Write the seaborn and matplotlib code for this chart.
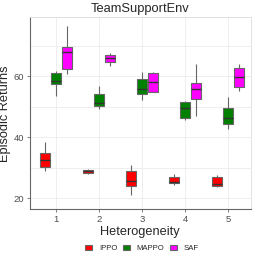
import numpy as np
import pandas as pd
import seaborn as sns
from matplotlib import pyplot as plt

# Five runs per box (whisker low, q1, median, q3, whisker high)
heterogeneity = [1, 2, 3, 4, 5]
methods = ["IPPO", "MAPPO", "SAF"]

ippo = [[29.0, 30.4, 32.6, 35.0, 38.4],
        [27.9, 28.4, 28.9, 29.3, 29.6],
        [21.0, 24.1, 25.7, 28.9, 30.8],
        [24.3, 25.0, 25.3, 27.0, 27.9],
        [23.6, 24.1, 24.7, 26.9, 27.6]]
mappo = [[53.5, 57.5, 58.4, 61.0, 61.8],
         [49.4, 50.4, 51.3, 54.1, 56.9],
         [52.2, 54.1, 55.8, 59.0, 61.3],
         [45.6, 46.3, 49.5, 51.5, 51.9],
         [42.8, 44.5, 46.2, 49.7, 53.2]]
saf = [[60.7, 62.5, 68.0, 69.5, 76.5],
       [63.5, 64.8, 66.0, 67.1, 67.7],
       [54.9, 54.9, 58.0, 61.1, 61.5],
       [46.8, 52.5, 55.7, 57.7, 64.0],
       [55.0, 56.4, 59.7, 62.8, 64.0]]

palette = {"IPPO": "#FF0000", "MAPPO": "#008000", "SAF": "#FF00FF"}

rows = []
for name, runs in zip(methods, [ippo, mappo, saf]):
    for h, vals in zip(heterogeneity, runs):
        for v in vals:
            rows.append({"Heterogeneity": h, "Method": name, "Return": v})
df = pd.DataFrame(rows)

sns.set_style("white")
plt.rcParams['font.family'] = ['Liberation Sans', 'DejaVu Sans']

fig = plt.figure(figsize=(2.58, 2.58), dpi=100)
ax = fig.add_axes([0.1163, 0.1888, 0.855, 0.7442])

sns.boxplot(data=df, x="Heterogeneity", y="Return", hue="Method",
            hue_order=methods, palette=palette, width=0.75, gap=0.08,
            whis=np.inf, showcaps=False, linecolor="#666666", linewidth=0.8,
            medianprops={"color": "#333333", "linewidth": 1.0},
            saturation=1, ax=ax)

ax.set_xlim(-0.6, 4.52)
ax.set_ylim(16.4, 79.3)
ax.set_yticks([20, 40, 60])
ax.set_yticks([30, 50, 70], minor=True)

ax.grid(True, which="both", color="#EBEBEB", linewidth=0.6)
ax.set_axisbelow(True)
for side in ["top", "right"]:
    ax.spines[side].set_color("#DDDDDD")
    ax.spines[side].set_linewidth(0.6)
for side in ["left", "bottom"]:
    ax.spines[side].set_color("#666666")
    ax.spines[side].set_linewidth(0.8)

ax.tick_params(axis="both", which="major", labelsize=6.8, labelcolor="#4D4D4D",
               length=2.5, width=0.6, color="#666666", pad=1.8, left=True, bottom=True)
ax.tick_params(axis="y", which="minor", length=0)

ax.set_xlabel("Heterogeneity", fontsize=9.2, labelpad=1.5)
ax.set_ylabel("Episodic Returns", fontsize=9.2, labelpad=1.5)
ax.set_title("TeamSupportEnv", fontsize=9.3, pad=4)

handles, labels = ax.get_legend_handles_labels()
ax.get_legend().remove()
fig.legend(handles, labels, loc="center", bbox_to_anchor=(0.55, 0.038), ncol=3,
           frameon=False, fontsize=5.6, handlelength=0.9, handleheight=0.6,
           columnspacing=0.7, handletextpad=0.9)

fig.savefig("out.png", dpi=100)
